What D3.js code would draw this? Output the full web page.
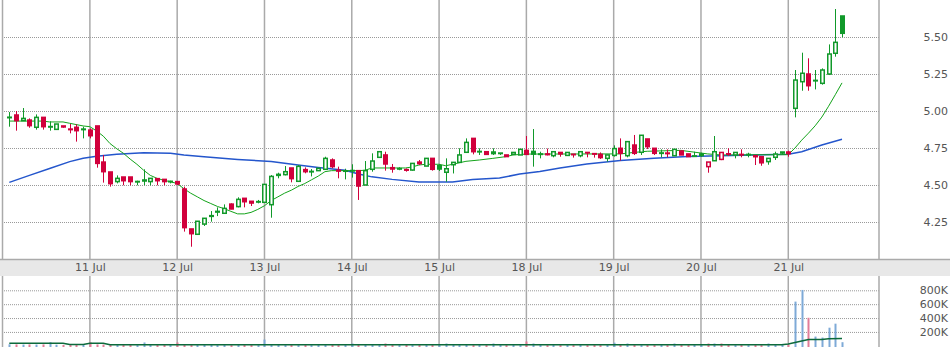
<!DOCTYPE html>
<html>
<head>
<meta charset="utf-8">
<script src="https://cdn.jsdelivr.net/npm/d3@7"></script>
<style>
  body { margin: 0; background: #fff; }
  svg { display: block; font-family: "DejaVu Sans", Verdana, sans-serif; }
</style>
</head>
<body>
<svg id="chart" width="950" height="347"></svg>
<script>

// 30 minute bars, 13 per session, index 0 = first bar shown
const opens = [
  4.955, 4.973, 4.935, 4.939, 4.890, 4.957, 4.893, 4.876, 4.899, 4.878,
  4.890, 4.874, 4.871, 4.899, 4.655, 4.588, 4.523, 4.554, 4.554, 4.521,
  4.534, 4.523, 4.543, 4.538, 4.522, 4.523, 4.473, 4.203, 4.167, 4.236,
  4.293, 4.317, 4.309, 4.371, 4.354, 4.410, 4.390, 4.386, 4.383, 4.367,
  4.572, 4.570, 4.615, 4.525, 4.604, 4.590, 4.597, 4.606, 4.669, 4.600,
  4.594, 4.596, 4.597, 4.500, 4.606, 4.687, 4.703, 4.617, 4.609, 4.604,
  4.601, 4.655, 4.628, 4.680, 4.630, 4.586, 4.637, 4.653, 4.721, 4.815,
  4.725, 4.725, 4.723, 4.716, 4.703, 4.707, 4.703, 4.734, 4.727, 4.709,
  4.710, 4.698, 4.720, 4.700, 4.708, 4.698, 4.720, 4.712, 4.707, 4.680,
  4.700, 4.748, 4.698, 4.770, 4.721, 4.811, 4.748, 4.715, 4.716, 4.698,
  4.730, 4.710, 4.695, 4.710, 4.624, 4.664, 4.673, 4.711, 4.703, 4.707,
  4.705, 4.698, 4.691, 4.658, 4.687, 4.723, 4.723, 5.018, 5.198, 5.250,
  5.205, 5.187, 5.250, 5.390, 5.642
];
const highs = [
  4.993, 5.000, 5.020, 4.950, 4.977, 4.957, 4.930, 4.912, 4.899, 4.912,
  4.910, 4.894, 4.883, 4.899, 4.703, 4.588, 4.565, 4.554, 4.554, 4.529,
  4.606, 4.545, 4.543, 4.538, 4.529, 4.523, 4.489, 4.203, 4.255, 4.275,
  4.324, 4.349, 4.369, 4.376, 4.417, 4.410, 4.390, 4.399, 4.504, 4.567,
  4.583, 4.628, 4.615, 4.635, 4.619, 4.608, 4.613, 4.691, 4.680, 4.624,
  4.610, 4.640, 4.600, 4.662, 4.714, 4.725, 4.725, 4.642, 4.620, 4.612,
  4.646, 4.669, 4.680, 4.680, 4.642, 4.680, 4.653, 4.748, 4.815, 4.815,
  4.748, 4.725, 4.748, 4.716, 4.703, 4.720, 4.743, 4.831, 4.878, 4.725,
  4.746, 4.725, 4.720, 4.720, 4.708, 4.725, 4.720, 4.712, 4.720, 4.703,
  4.768, 4.815, 4.793, 4.838, 4.836, 4.811, 4.748, 4.741, 4.741, 4.741,
  4.730, 4.710, 4.725, 4.718, 4.655, 4.831, 4.720, 4.748, 4.720, 4.741,
  4.718, 4.698, 4.691, 4.680, 4.725, 4.723, 4.732, 5.277, 5.394, 5.356,
  5.277, 5.288, 5.450, 5.689, 5.642
];
const lows = [
  4.894, 4.867, 4.935, 4.887, 4.874, 4.874, 4.867, 4.876, 4.887, 4.849,
  4.793, 4.815, 4.815, 4.617, 4.516, 4.489, 4.511, 4.498, 4.498, 4.498,
  4.498, 4.498, 4.498, 4.498, 4.511, 4.500, 4.185, 4.083, 4.167, 4.223,
  4.252, 4.290, 4.309, 4.336, 4.349, 4.349, 4.358, 4.376, 4.383, 4.279,
  4.545, 4.565, 4.518, 4.523, 4.579, 4.558, 4.597, 4.606, 4.613, 4.545,
  4.538, 4.550, 4.399, 4.500, 4.590, 4.687, 4.597, 4.583, 4.600, 4.590,
  4.597, 4.635, 4.628, 4.597, 4.595, 4.522, 4.578, 4.653, 4.721, 4.707,
  4.703, 4.707, 4.703, 4.703, 4.690, 4.707, 4.703, 4.703, 4.624, 4.680,
  4.700, 4.687, 4.691, 4.700, 4.685, 4.687, 4.687, 4.685, 4.676, 4.658,
  4.692, 4.665, 4.687, 4.703, 4.703, 4.743, 4.703, 4.687, 4.687, 4.698,
  4.703, 4.692, 4.692, 4.690, 4.583, 4.664, 4.668, 4.696, 4.680, 4.687,
  4.687, 4.635, 4.630, 4.637, 4.669, 4.703, 4.691, 4.957, 5.137, 5.137,
  5.146, 5.178, 5.243, 5.367, 5.498
];
const closes = [
  4.958, 4.935, 4.950, 4.901, 4.957, 4.894, 4.895, 4.912, 4.892, 4.874,
  4.867, 4.878, 4.833, 4.646, 4.590, 4.509, 4.545, 4.529, 4.523, 4.524,
  4.527, 4.545, 4.529, 4.523, 4.525, 4.507, 4.212, 4.171, 4.255, 4.275,
  4.288, 4.322, 4.342, 4.338, 4.403, 4.387, 4.378, 4.388, 4.504, 4.558,
  4.565, 4.590, 4.543, 4.626, 4.590, 4.592, 4.613, 4.680, 4.624, 4.594,
  4.596, 4.598, 4.493, 4.597, 4.662, 4.725, 4.642, 4.608, 4.611, 4.600,
  4.646, 4.644, 4.680, 4.606, 4.608, 4.610, 4.653, 4.703, 4.788, 4.725,
  4.727, 4.707, 4.712, 4.713, 4.692, 4.720, 4.741, 4.707, 4.709, 4.710,
  4.705, 4.725, 4.710, 4.720, 4.706, 4.725, 4.717, 4.710, 4.685, 4.703,
  4.746, 4.714, 4.793, 4.714, 4.836, 4.759, 4.714, 4.717, 4.712, 4.741,
  4.703, 4.692, 4.697, 4.699, 4.655, 4.725, 4.720, 4.708, 4.720, 4.705,
  4.707, 4.691, 4.650, 4.680, 4.709, 4.716, 4.712, 5.209, 5.255, 5.171,
  5.207, 5.277, 5.385, 5.464, 5.525
];
const volumes = [
  22000, 20000, 18000, 20000, 18000, 20000, 52000, 16000, 12000, 14000,
  14000, 12000, 52000, 20000, 18000, 14000, 12000, 14000, 12000, 10000,
  48000, 14000, 12000, 12000, 10000, 48000, 18000, 16000, 12000, 12000,
  12000, 10000, 12000, 10000, 12000, 14000, 12000, 10000, 90000, 16000,
  12000, 10000, 12000, 10000, 12000, 10000, 12000, 12000, 14000, 10000,
  12000, 33000, 14000, 12000, 12000, 10000, 33000, 12000, 10000, 12000,
  10000, 12000, 10000, 12000, 10000, 33000, 12000, 10000, 12000, 10000,
  12000, 10000, 33000, 12000, 10000, 12000, 10000, 62000, 33000, 12000,
  10000, 12000, 10000, 12000, 10000, 12000, 10000, 12000, 10000, 12000,
  45000, 12000, 33000, 12000, 10000, 12000, 10000, 12000, 10000, 33000,
  12000, 10000, 12000, 10000, 33000, 33000, 33000, 12000, 10000, 12000,
  10000, 12000, 10000, 33000, 12000, 12000, 20000, 637000, 805000, 404000,
  133000, 119000, 261000, 319000, 52000
];

// moving averages: [bar index, value]
const fastMa = [
  [0, 4.932], [5, 4.932], [6, 4.926], [8, 4.926], [9, 4.917], [11, 4.899],
  [12, 4.894], [13, 4.865], [14, 4.830], [15, 4.780], [16, 4.745], [17, 4.714],
  [18, 4.675], [19, 4.640], [20, 4.600], [21, 4.565], [22, 4.545], [23, 4.532],
  [24, 4.522], [25, 4.510], [26, 4.475], [27, 4.445], [28, 4.420], [29, 4.395],
  [30, 4.375], [31, 4.355], [32, 4.340], [33, 4.322], [34, 4.305], [35, 4.305],
  [36, 4.315], [37, 4.335], [38, 4.360], [39, 4.395], [40, 4.420], [41, 4.445],
  [42, 4.465], [43, 4.490], [44, 4.510], [45, 4.535], [46, 4.560], [47, 4.590],
  [48, 4.597], [52, 4.597], [53, 4.600], [54, 4.615], [59, 4.615], [60, 4.622],
  [61, 4.635], [62, 4.640], [64, 4.640], [65, 4.630], [66, 4.640], [67, 4.650],
  [68, 4.660], [70, 4.669], [72, 4.680], [74, 4.692], [75, 4.703], [77, 4.709],
  [91, 4.710], [93, 4.720], [95, 4.728], [100, 4.734], [102, 4.722], [104, 4.710],
  [106, 4.703], [116, 4.705], [117, 4.750], [118, 4.803], [119, 4.850], [120, 4.900],
  [121, 4.959], [122, 5.032], [123, 5.110], [124, 5.190]
];
const slowMa = [
  [0, 4.518], [3, 4.565], [6, 4.612], [9, 4.658], [11, 4.680], [13, 4.694],
  [16, 4.708], [20, 4.718], [24, 4.714], [26, 4.703], [29, 4.691], [34, 4.673],
  [39, 4.658], [43, 4.635], [46, 4.619], [50, 4.600], [52, 4.575], [54, 4.555],
  [57, 4.538], [61, 4.520], [66, 4.520], [69, 4.537], [73, 4.547], [76, 4.574],
  [79, 4.592], [82, 4.615], [86, 4.642], [91, 4.665], [96, 4.680], [101, 4.692],
  [106, 4.698], [116, 4.708], [118, 4.725], [121, 4.770], [124, 4.809]
];
const volumeMa = [
  [0, 38000], [8, 38000], [9, 19000], [11, 19000], [12, 38000], [14, 38000],
  [15, 15000], [115, 15000], [116, 25000], [117, 47000], [118, 69000], [119, 90000],
  [121, 90000], [122, 100000], [124, 104000]
];

const dayStarts = [12, 25, 38, 51, 64, 77, 90, 103, 116];
const dayLabels = ["11 Jul", "12 Jul", "13 Jul", "14 Jul", "15 Jul", "18 Jul", "19 Jul", "20 Jul", "21 Jul"];
const priceTicks = [4.25, 4.50, 4.75, 5.00, 5.25, 5.50];
const volumeTicks = [200000, 400000, 600000, 800000];


const W = 950, H = 347;
const plotLeft = 2.5, plotRight = 879;
const priceBottom = 259, volTop = 276;
const upColor = "#11992a", downColor = "#d1003c";
const upVol = "#7eaad7", downVol = "#e27c98";

const svg = d3.select("#chart");

const x = d3.scaleLinear().domain([0, 124]).range([9.3, 842]);
const y = d3.scaleLinear().domain([4.0, 5.75]).range([priceBottom, 0]);
const yVol = d3.scaleLinear().domain([0, 800000]).range([345.8, 290.3]);

const bars = closes.map((c, i) => ({
  i: i,
  open: opens[i],
  high: highs[i],
  low: lows[i],
  close: c,
  volume: volumes[i],
  up: c >= (i > 0 ? closes[i - 1] : opens[i])
}));


const appendGrid = () => {
  // dotted horizontal lines, price panel
  svg.append("g")
      .attr("transform", `translate(${plotRight},0)`)
      .call(d3.axisRight(y).tickValues(priceTicks).tickSize(-(plotRight - plotLeft)).tickFormat(""))
      .call(g => g.select(".domain").remove())
      .selectAll("line")
        .attr("stroke", "#999")
        .attr("stroke-dasharray", "1,1");

  // dotted horizontal lines, volume panel
  svg.append("g")
      .attr("transform", `translate(${plotRight},0)`)
      .call(d3.axisRight(yVol).tickValues(volumeTicks).tickSize(-(plotRight - plotLeft)).tickFormat(""))
      .call(g => g.select(".domain").remove())
      .selectAll("line")
        .attr("stroke", "#999")
        .attr("stroke-dasharray", "1,1");

  // solid vertical lines: borders + one per session
  const vx = [plotLeft, ...dayStarts.map(d => x(d)), plotRight];
  [[0, priceBottom], [volTop, H]].forEach(([y0, y1]) => {
    svg.append("g")
      .selectAll("line")
      .data(vx)
      .enter()
      .append("line")
        .attr("x1", d => d).attr("x2", d => d)
        .attr("y1", y0).attr("y2", y1)
        .attr("stroke", "#aaa")
        .attr("stroke-width", 1.5);
  });

  // date band between the two panels
  svg.append("rect")
      .attr("x", 0).attr("y", priceBottom)
      .attr("width", W).attr("height", volTop - priceBottom)
      .attr("fill", "#e8e8e8");
  svg.append("line")
      .attr("x1", 0).attr("x2", W)
      .attr("y1", priceBottom + 0.5).attr("y2", priceBottom + 0.5)
      .attr("stroke", "#aaa")
      .attr("stroke-width", 1.5);
}


const appendAxes = () => {
  const styleText = g => {
    g.select(".domain").remove();
    g.selectAll("text")
      .attr("fill", "#555")
      .style("font-size", "11px")
      .style("font-family", "'DejaVu Sans', Verdana, sans-serif");
  };

  svg.append("g")
      .attr("transform", "translate(948,0)")
      .call(d3.axisLeft(y).tickValues(priceTicks).tickSize(0).tickPadding(0).tickFormat(d3.format(".2f")))
      .call(styleText);

  svg.append("g")
      .attr("transform", "translate(948,0)")
      .call(d3.axisLeft(yVol).tickValues(volumeTicks).tickSize(0).tickPadding(0).tickFormat(d => (d / 1000) + "K"))
      .call(styleText);

  svg.append("g")
      .attr("transform", `translate(0,${priceBottom + 4})`)
      .call(d3.axisBottom(x).tickValues(dayStarts).tickSize(0).tickPadding(0).tickFormat((d, i) => dayLabels[i]))
      .call(styleText);
}


const appendCandles = () => {
  const g = svg.append("g");
  const cx = d => Math.round(x(d.i));

  // wicks
  g.selectAll("line.wick")
    .data(bars)
    .enter()
    .append("line")
      .attr("class", "wick")
      .attr("x1", d => cx(d) + 0.5).attr("x2", d => cx(d) + 0.5)
      .attr("y1", d => y(d.high)).attr("y2", d => y(d.low))
      .attr("stroke", d => d.up ? upColor : downColor)
      .attr("stroke-width", 1);

  // bodies: hollow when close >= open, filled otherwise
  g.selectAll("rect.body")
    .data(bars)
    .enter()
    .append("rect")
      .attr("class", "body")
      .attr("x", d => cx(d) - 1.25)
      .attr("width", 3.5)
      .attr("y", d => y(Math.max(d.open, d.close)))
      .attr("height", d => Math.max(0.5, Math.abs(y(d.open) - y(d.close))))
      .attr("fill", d => d.close >= d.open ? "#fff" : (d.up ? upColor : downColor))
      .attr("stroke", d => d.up ? upColor : downColor)
      .attr("stroke-width", 1.5);
}


const appendMovingAverages = () => {
  const line = d3.line().x(d => x(d[0])).y(d => y(d[1]));

  svg.append("path")
      .datum(slowMa)
      .attr("d", line)
      .attr("fill", "none")
      .attr("stroke", "#2456cc")
      .attr("stroke-width", 1.5);

  svg.append("path")
      .datum(fastMa)
      .attr("d", line)
      .attr("fill", "none")
      .attr("stroke", "#13a31a")
      .attr("stroke-width", 1);
}


const appendVolume = () => {
  svg.append("g")
    .selectAll("rect")
    .data(bars)
    .enter()
    .append("rect")
      .attr("x", d => Math.round(x(d.i)) - 0.5)
      .attr("width", 2)
      .attr("y", d => yVol(d.volume))
      .attr("height", d => H - yVol(d.volume))
      .attr("fill", d => d.up ? upVol : downVol);

  svg.append("path")
      .datum(volumeMa)
      .attr("d", d3.line().x(d => x(d[0])).y(d => yVol(d[1])))
      .attr("fill", "none")
      .attr("stroke", "#0d6a3c")
      .attr("stroke-width", 1.5);
}


appendGrid();
appendVolume();
appendMovingAverages();
appendCandles();
appendAxes();

</script>
</body>
</html>
